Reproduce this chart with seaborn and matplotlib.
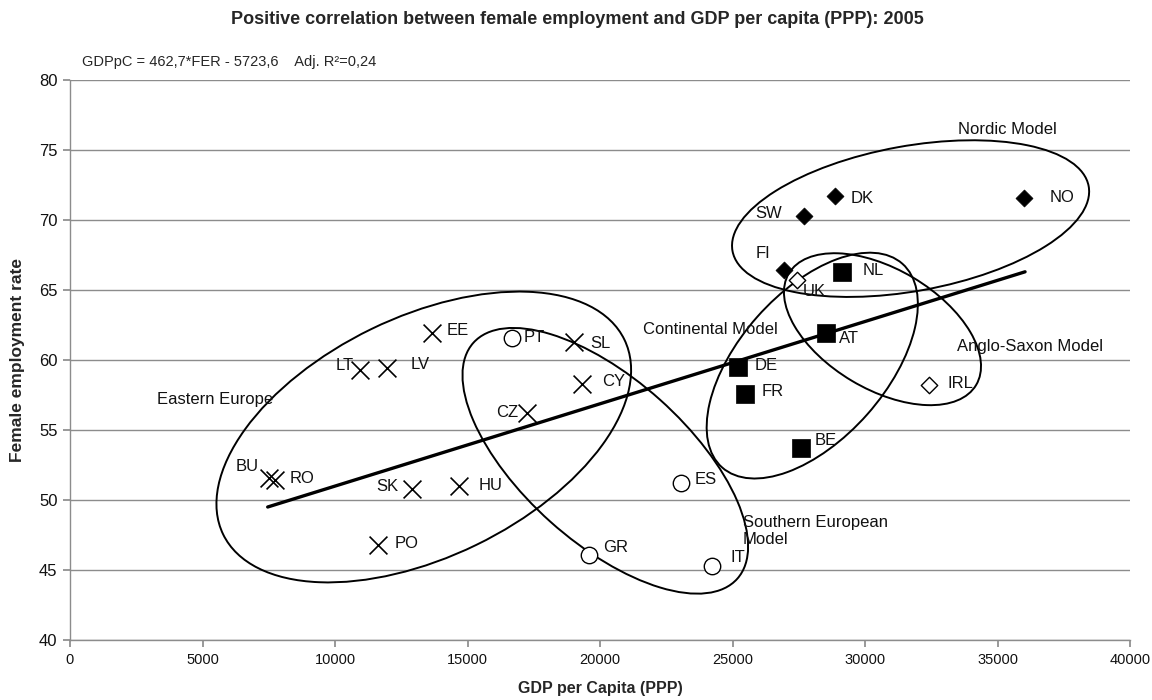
import numpy as np
import pandas as pd
import matplotlib.pyplot as plt
import matplotlib.transforms as mtransforms
from matplotlib.patches import Ellipse
import seaborn as sns

# data
countries = ['EE', 'LT', 'LV', 'BU', 'RO', 'SK', 'HU', 'PO', 'CZ', 'SL', 'CY',
             'PT', 'GR', 'ES', 'IT',
             'DE', 'FR', 'BE', 'AT', 'NL',
             'DK', 'SW', 'NO', 'FI',
             'UK', 'IRL']
gdp_pc = [13660, 10940, 11950, 7520, 7740, 12890, 14690, 11620, 17230, 19020, 19330,
          16670, 19580, 23040, 24210,
          25190, 25470, 27580, 28530, 29150,
          28870, 27710, 36000, 26960,
          27420, 32430]
female_emp = [61.9, 59.3, 59.4, 51.6, 51.4, 50.8, 51.0, 46.8, 56.2, 61.3, 58.3,
              61.6, 46.1, 51.2, 45.3,
              59.5, 57.6, 53.7, 61.9, 66.3,
              71.7, 70.3, 71.6, 66.4,
              65.7, 58.2]
model = (['Eastern Europe'] * 11 + ['Southern European Model'] * 4 +
         ['Continental Model'] * 5 + ['Nordic Model'] * 4 + ['Anglo-Saxon Model'] * 2)

# linear trend as drawn in the chart (end points)
trend_gdp = [7460, 36040]
trend_fer = [49.5, 66.3]

df = pd.DataFrame({'country': countries, 'gdp': gdp_pc, 'fer': female_emp, 'model': model})

sns.set_theme(style="white")
plt.rcParams['font.family'] = ['Liberation Sans', 'DejaVu Sans']

fig = plt.figure(figsize=(11.52, 7), dpi=100)
ax = fig.add_axes([70/1152, 60/700, 1060/1152, 560/700])

sns.lineplot(x=trend_gdp, y=trend_fer, color='black', lw=2.4, ax=ax, zorder=2)

marker_styles = {
    'Eastern Europe': dict(marker='x', s=165, color='black', linewidth=1.2),
    'Southern European Model': dict(marker='o', s=140, color='white', edgecolor='black', linewidth=1.0),
    'Continental Model': dict(marker='s', s=150, color='black', edgecolor='black', linewidth=0.5),
    'Nordic Model': dict(marker='D', s=75, color='black', edgecolor='black', linewidth=0.5),
    'Anglo-Saxon Model': dict(marker='D', s=70, color='white', edgecolor='black', linewidth=1.0),
}
for grp, kw in marker_styles.items():
    sns.scatterplot(data=df[df.model == grp], x='gdp', y='fer', ax=ax,
                    legend=False, zorder=3, **kw)

# label offsets in pixels (dx, dy, ha)
label_pos = {
    'EE': (15, 3, 'left'), 'LT': (-6, 4, 'right'), 'LV': (24, 4, 'left'),
    'BU': (-11, 11, 'right'), 'RO': (15, 2, 'left'), 'SK': (-13, 2, 'right'),
    'HU': (19, 1, 'left'), 'PO': (17, 1, 'left'), 'CZ': (-8, 1, 'right'),
    'SL': (16, -2, 'left'), 'CY': (20, 2, 'left'), 'PT': (12, 0, 'left'),
    'GR': (14, 7, 'left'), 'ES': (14, 4, 'left'), 'IT': (19, 8, 'left'),
    'DE': (17, 1, 'left'), 'FR': (17, 2, 'left'), 'BE': (14, 8, 'left'),
    'AT': (13, -5, 'left'), 'NL': (20, 1, 'left'), 'DK': (16, -2, 'left'),
    'SW': (-22, 2, 'right'), 'NO': (26, 0, 'left'), 'FI': (-14, 17, 'right'),
    'UK': (6, -11, 'left'), 'IRL': (18, 2, 'left'),
}
for _, r in df.iterrows():
    dx, dy, ha = label_pos[r.country]
    ax.annotate(r.country, (r.gdp, r.fer), xytext=(dx, dy), textcoords='offset pixels',
                ha=ha, va='center', fontsize=12, color='#111111', zorder=4)

# group ellipses: centre in data units, semi-axes in pixels, tilt in degrees
ellipses = {
    'Eastern Europe': (13350, 54.5, 223, 120, 25.9),
    'Southern European Model': (20200, 52.8, 177, 82, -41.8),
    'Continental Model': (28010, 59.6, 136, 73.5, 48.5),
    'Nordic Model': (31720, 70.1, 181, 72.5, 10.3),
    'Anglo-Saxon Model': (30660, 62.2, 109, 60, -30.8),
}
for cx, cy, a, b, ang in ellipses.values():
    tr = fig.dpi_scale_trans + mtransforms.ScaledTranslation(cx, cy, ax.transData)
    ax.add_patch(Ellipse((0, 0), 2 * a / 100, 2 * b / 100, angle=ang, transform=tr,
                         fill=False, ec='black', lw=1.4, zorder=2))

group_labels = {
    'Eastern Europe': (3280, 57.15),
    'Continental Model': (21620, 62.2),
    'Anglo-Saxon Model': (33470, 61.0),
    'Nordic Model': (33510, 76.5),
    'Southern European\nModel': (25400, 47.8),
}
for txt, (gx, gy) in group_labels.items():
    ax.text(gx, gy, txt, ha='left', va='center', fontsize=12, color='#111111')

ax.set_xlim(0, 40000)
ax.set_ylim(40, 80)
ax.set_xticks(np.arange(0, 40001, 5000))
ax.set_yticks(np.arange(40, 81, 5))
ax.yaxis.grid(True, color='#8c8c8c', lw=1)
ax.set_axisbelow(True)
sns.despine(ax=ax, top=True, right=True)
for sp in ['left', 'bottom']:
    ax.spines[sp].set_color('#8c8c8c')
    ax.spines[sp].set_linewidth(1)
ax.tick_params(axis='both', bottom=True, left=True, direction='out', length=5,
               color='#8c8c8c', pad=4, labelcolor='#111111')
ax.tick_params(axis='x', labelsize=10.5)
ax.tick_params(axis='y', labelsize=12)

ax.set_xlabel('GDP per Capita (PPP)', fontsize=11.5, fontweight='bold')
ax.set_ylabel('Female employment rate', fontsize=12.5, fontweight='bold')
ax.xaxis.set_label_coords(0.5, -0.073)
ax.yaxis.set_label_coords(-0.0425, 0.5)

fig.text(577/1152, 1 - 20/700, 'Positive correlation between female employment and GDP per capita (PPP): 2005',
         ha='center', va='center', fontsize=13, fontweight='bold')
fig.text(82/1152, 1 - 62/700, 'GDPpC = 462,7*FER - 5723,6    Adj. R\u00b2=0,24',
         ha='left', va='center', fontsize=10.5)

fig.savefig('out.png', dpi=100)
